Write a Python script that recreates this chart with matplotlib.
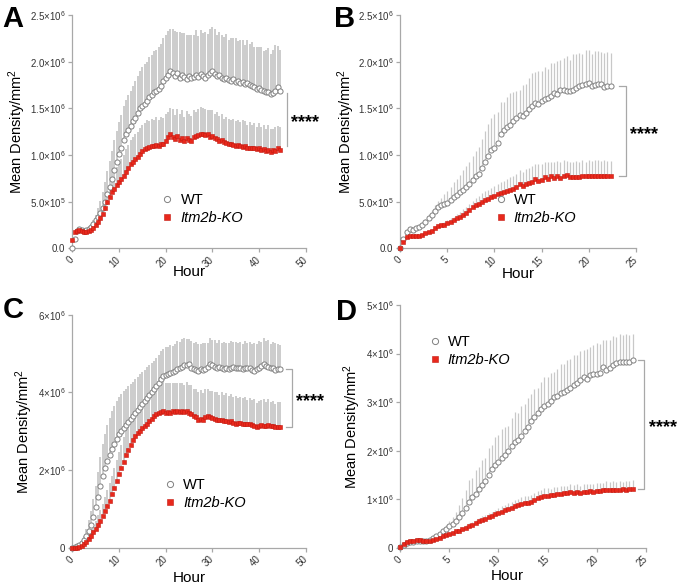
import numpy as np
import matplotlib
matplotlib.use('Agg')
import matplotlib.pyplot as plt

plt.rcParams['font.family'] = ['Liberation Sans', 'DejaVu Sans']
plt.rcParams['mathtext.fontset'] = 'custom'
plt.rcParams['mathtext.rm'] = 'Liberation Sans'
plt.rcParams['mathtext.it'] = 'Liberation Sans:italic'

# mean density per mm2 and SD, in units of 1e6
# panels A and C: one point every 0.5 h, panels B and D: every 1/3 h
step_a = 0.5
wt_a = [0.00, 0.10, 0.19, 0.21, 0.20, 0.19, 0.20, 0.21, 0.23, 0.26,
        0.30, 0.34, 0.38, 0.43, 0.50, 0.58, 0.66, 0.74, 0.84, 0.93,
        1.01, 1.08, 1.16, 1.23, 1.27, 1.31, 1.36, 1.40, 1.45, 1.50,
        1.53, 1.55, 1.58, 1.62, 1.64, 1.67, 1.69, 1.71, 1.74, 1.79,
        1.83, 1.86, 1.90, 1.88, 1.85, 1.88, 1.83, 1.86, 1.84, 1.81,
        1.85, 1.82, 1.84, 1.86, 1.84, 1.87, 1.85, 1.83, 1.86, 1.88,
        1.90, 1.87, 1.85, 1.86, 1.82, 1.81, 1.82, 1.80, 1.79, 1.81,
        1.78, 1.79, 1.77, 1.78, 1.76, 1.77, 1.75, 1.74, 1.73, 1.71,
        1.72, 1.70, 1.69, 1.68, 1.67, 1.65, 1.66, 1.69, 1.73, 1.69]
wt_a_sd = [0.00, 0.01, 0.02, 0.02, 0.02, 0.02, 0.02, 0.03, 0.03, 0.04,
           0.06, 0.09, 0.13, 0.17, 0.21, 0.25, 0.28, 0.30, 0.32, 0.33,
           0.34, 0.35, 0.36, 0.36, 0.37, 0.38, 0.38, 0.39, 0.40, 0.40,
           0.41, 0.42, 0.42, 0.43, 0.43, 0.44, 0.44, 0.45, 0.45, 0.46,
           0.46, 0.47, 0.45, 0.47, 0.48, 0.44, 0.49, 0.45, 0.47, 0.48,
           0.44, 0.47, 0.45, 0.48, 0.43, 0.47, 0.46, 0.49, 0.44, 0.47,
           0.47, 0.48, 0.44, 0.46, 0.47, 0.45, 0.48, 0.43, 0.46, 0.44,
           0.47, 0.43, 0.46, 0.45, 0.42, 0.46, 0.44, 0.47, 0.43, 0.45,
           0.44, 0.46, 0.42, 0.45, 0.48, 0.43, 0.46, 0.49, 0.44, 0.44]
ko_a = [0.09, 0.17, 0.19, 0.20, 0.19, 0.18, 0.18, 0.19, 0.20, 0.22,
        0.25, 0.28, 0.32, 0.37, 0.43, 0.50, 0.55, 0.60, 0.64, 0.68,
        0.71, 0.74, 0.77, 0.82, 0.86, 0.90, 0.93, 0.96, 0.98, 1.01,
        1.04, 1.06, 1.08, 1.09, 1.10, 1.10, 1.11, 1.10, 1.12, 1.12,
        1.15, 1.19, 1.22, 1.19, 1.17, 1.20, 1.16, 1.18, 1.15, 1.18,
        1.16, 1.15, 1.19, 1.20, 1.21, 1.22, 1.23, 1.21, 1.22, 1.19,
        1.20, 1.18, 1.17, 1.15, 1.16, 1.14, 1.13, 1.12, 1.12, 1.11,
        1.10, 1.11, 1.10, 1.09, 1.10, 1.08, 1.08, 1.07, 1.08, 1.06,
        1.07, 1.05, 1.06, 1.04, 1.05, 1.03, 1.05, 1.04, 1.07, 1.05]
ko_a_sd = [0.00, 0.01, 0.01, 0.01, 0.01, 0.01, 0.01, 0.02, 0.02, 0.02,
           0.03, 0.04, 0.05, 0.07, 0.09, 0.11, 0.13, 0.15, 0.17, 0.19,
           0.21, 0.22, 0.23, 0.24, 0.25, 0.26, 0.26, 0.27, 0.27, 0.28,
           0.28, 0.28, 0.29, 0.27, 0.29, 0.28, 0.30, 0.27, 0.29, 0.28,
           0.29, 0.27, 0.28, 0.30, 0.26, 0.29, 0.28, 0.30, 0.26, 0.29,
           0.28, 0.27, 0.29, 0.26, 0.28, 0.29, 0.27, 0.28, 0.26, 0.29,
           0.28, 0.26, 0.29, 0.27, 0.28, 0.25, 0.28, 0.27, 0.26, 0.28,
           0.26, 0.27, 0.25, 0.28, 0.26, 0.24, 0.27, 0.25, 0.26, 0.24,
           0.27, 0.25, 0.26, 0.24, 0.27, 0.25, 0.23, 0.26, 0.24, 0.25]

step_b = 1 / 3
wt_b = [0.00, 0.10, 0.18, 0.21, 0.20, 0.22, 0.23, 0.25, 0.28,
        0.33, 0.36, 0.40, 0.44, 0.46, 0.48, 0.49, 0.52, 0.55,
        0.57, 0.60, 0.63, 0.66, 0.69, 0.73, 0.77, 0.80, 0.86,
        0.93, 0.99, 1.05, 1.08, 1.13, 1.22, 1.27, 1.30, 1.32,
        1.36, 1.40, 1.43, 1.42, 1.45, 1.49, 1.52, 1.56, 1.55,
        1.58, 1.60, 1.61, 1.63, 1.66, 1.65, 1.70, 1.70, 1.69,
        1.69, 1.70, 1.72, 1.74, 1.75, 1.76, 1.77, 1.74, 1.75,
        1.76, 1.76, 1.73, 1.74, 1.74]
wt_b_sd = [0.00, 0.01, 0.01, 0.01, 0.02, 0.02, 0.02, 0.03, 0.03,
           0.04, 0.05, 0.06, 0.07, 0.08, 0.10, 0.12, 0.14, 0.16,
           0.17, 0.19, 0.21, 0.22, 0.24, 0.26, 0.27, 0.29, 0.31,
           0.33, 0.34, 0.35, 0.36, 0.33, 0.35, 0.30, 0.32, 0.34,
           0.31, 0.29, 0.27, 0.33, 0.31, 0.34, 0.36, 0.33, 0.35,
           0.32, 0.34, 0.31, 0.36, 0.33, 0.36, 0.32, 0.34, 0.37,
           0.33, 0.38, 0.36, 0.35, 0.33, 0.36, 0.35, 0.34, 0.36,
           0.35, 0.34, 0.36, 0.36, 0.35]
ko_b = [0.00, 0.07, 0.12, 0.13, 0.13, 0.13, 0.13, 0.14, 0.16,
        0.17, 0.19, 0.22, 0.24, 0.25, 0.25, 0.27, 0.28, 0.30,
        0.32, 0.34, 0.36, 0.38, 0.41, 0.44, 0.46, 0.48, 0.50,
        0.52, 0.53, 0.55, 0.56, 0.58, 0.59, 0.60, 0.61, 0.63,
        0.64, 0.66, 0.69, 0.67, 0.69, 0.70, 0.71, 0.74, 0.72,
        0.73, 0.76, 0.74, 0.77, 0.75, 0.78, 0.75, 0.78, 0.79,
        0.76, 0.76, 0.76, 0.76, 0.77, 0.77, 0.78, 0.78, 0.78,
        0.78, 0.78, 0.78, 0.77, 0.77]
ko_b_sd = [0.00, 0.00, 0.01, 0.01, 0.01, 0.01, 0.01, 0.01, 0.01,
           0.01, 0.02, 0.02, 0.02, 0.02, 0.03, 0.03, 0.04, 0.04,
           0.05, 0.05, 0.06, 0.06, 0.07, 0.07, 0.08, 0.08, 0.09,
           0.09, 0.10, 0.10, 0.11, 0.11, 0.12, 0.12, 0.13, 0.13,
           0.14, 0.14, 0.15, 0.15, 0.16, 0.16, 0.17, 0.16, 0.18,
           0.17, 0.16, 0.18, 0.15, 0.17, 0.16, 0.18, 0.17, 0.15,
           0.16, 0.17, 0.18, 0.17, 0.18, 0.16, 0.17, 0.16, 0.17,
           0.17, 0.16, 0.17, 0.17, 0.17]

step_c = 0.5
wt_c = [0.00, 0.02, 0.04, 0.07, 0.12, 0.20, 0.32, 0.45, 0.60, 0.80,
        1.05, 1.30, 1.60, 1.85, 2.05, 2.25, 2.40, 2.55, 2.68, 2.80,
        2.92, 3.00, 3.08, 3.16, 3.24, 3.32, 3.40, 3.48, 3.56, 3.63,
        3.70, 3.78, 3.86, 3.94, 4.00, 4.08, 4.16, 4.25, 4.35, 4.42,
        4.46, 4.47, 4.50, 4.52, 4.55, 4.60, 4.62, 4.66, 4.70, 4.71,
        4.72, 4.62, 4.60, 4.58, 4.56, 4.60, 4.58, 4.60, 4.65, 4.72,
        4.70, 4.66, 4.64, 4.66, 4.62, 4.60, 4.63, 4.60, 4.62, 4.65,
        4.62, 4.64, 4.62, 4.60, 4.63, 4.64, 4.62, 4.59, 4.56, 4.60,
        4.63, 4.68, 4.72, 4.68, 4.66, 4.62, 4.63, 4.59, 4.60, 4.60]
wt_c_sd = [0.00, 0.01, 0.02, 0.04, 0.07, 0.12, 0.18, 0.26, 0.35, 0.45,
           0.55, 0.65, 0.75, 0.82, 0.88, 0.92, 0.95, 0.97, 0.98, 0.98,
           0.97, 0.96, 0.95, 0.94, 0.92, 0.90, 0.88, 0.87, 0.85, 0.84,
           0.82, 0.80, 0.79, 0.77, 0.76, 0.74, 0.73, 0.72, 0.71, 0.70,
           0.70, 0.69, 0.72, 0.68, 0.70, 0.73, 0.67, 0.71, 0.69, 0.66,
           0.65, 0.70, 0.66, 0.72, 0.68, 0.64, 0.70, 0.67, 0.63, 0.69,
           0.66, 0.70, 0.64, 0.68, 0.65, 0.71, 0.63, 0.67, 0.70, 0.64,
           0.68, 0.62, 0.67, 0.65, 0.70, 0.63, 0.68, 0.66, 0.71, 0.64,
           0.69, 0.62, 0.67, 0.64, 0.70, 0.63, 0.66, 0.68, 0.64, 0.62]
ko_c = [0.00, 0.00, 0.01, 0.03, 0.06, 0.10, 0.16, 0.23, 0.31, 0.40,
        0.50, 0.60, 0.70, 0.82, 0.95, 1.08, 1.22, 1.38, 1.55, 1.72,
        1.90, 2.05, 2.22, 2.38, 2.52, 2.65, 2.78, 2.88, 2.95, 3.02,
        3.08, 3.14, 3.20, 3.26, 3.32, 3.40, 3.45, 3.48, 3.50, 3.52,
        3.48, 3.51, 3.47, 3.52, 3.50, 3.53, 3.49, 3.52, 3.50, 3.53,
        3.48, 3.45, 3.40, 3.36, 3.30, 3.33, 3.30, 3.36, 3.40, 3.38,
        3.34, 3.32, 3.30, 3.28, 3.30, 3.26, 3.27, 3.25, 3.26, 3.22,
        3.20, 3.22, 3.21, 3.20, 3.20, 3.18, 3.19, 3.16, 3.14, 3.12,
        3.13, 3.16, 3.15, 3.14, 3.16, 3.13, 3.14, 3.10, 3.12, 3.11]
ko_c_sd = [0.00, 0.00, 0.01, 0.02, 0.03, 0.05, 0.07, 0.10, 0.13, 0.16,
           0.20, 0.24, 0.28, 0.32, 0.36, 0.40, 0.44, 0.48, 0.52, 0.55,
           0.58, 0.61, 0.64, 0.66, 0.68, 0.70, 0.71, 0.72, 0.73, 0.74,
           0.74, 0.75, 0.75, 0.76, 0.76, 0.77, 0.76, 0.75, 0.77, 0.74,
           0.76, 0.73, 0.77, 0.72, 0.75, 0.71, 0.76, 0.73, 0.70, 0.74,
           0.71, 0.75, 0.69, 0.73, 0.70, 0.74, 0.68, 0.72, 0.70, 0.67,
           0.71, 0.68, 0.72, 0.66, 0.70, 0.67, 0.71, 0.65, 0.69, 0.66,
           0.70, 0.64, 0.68, 0.65, 0.69, 0.63, 0.67, 0.65, 0.68, 0.62,
           0.66, 0.64, 0.68, 0.62, 0.66, 0.63, 0.65, 0.61, 0.64, 0.65]

step_d = 1 / 3
wt_d = [0.02, 0.06, 0.10, 0.12, 0.13, 0.14, 0.14, 0.14, 0.14,
        0.16, 0.20, 0.24, 0.28, 0.34, 0.40, 0.45, 0.50, 0.56,
        0.63, 0.72, 0.82, 0.95, 1.05, 1.12, 1.22, 1.30, 1.38,
        1.50, 1.62, 1.70, 1.78, 1.85, 1.92, 2.00, 2.10, 2.18,
        2.22, 2.30, 2.40, 2.48, 2.62, 2.70, 2.78, 2.85, 2.92,
        2.97, 3.02, 3.10, 3.12, 3.18, 3.22, 3.26, 3.30, 3.36,
        3.40, 3.45, 3.52, 3.48, 3.56, 3.58, 3.58, 3.60, 3.72,
        3.66, 3.70, 3.76, 3.80, 3.82, 3.82, 3.82, 3.82, 3.86]
wt_d_sd = [0.00, 0.01, 0.01, 0.01, 0.01, 0.01, 0.01, 0.01, 0.01,
           0.02, 0.03, 0.04, 0.05, 0.06, 0.08, 0.10, 0.14, 0.18,
           0.25, 0.30, 0.38, 0.44, 0.40, 0.48, 0.45, 0.52, 0.48,
           0.55, 0.50, 0.58, 0.54, 0.60, 0.56, 0.52, 0.58, 0.61,
           0.55, 0.62, 0.57, 0.60, 0.54, 0.58, 0.52, 0.57, 0.60,
           0.55, 0.58, 0.52, 0.56, 0.60, 0.57, 0.61, 0.58, 0.62,
           0.57, 0.60, 0.55, 0.62, 0.58, 0.60, 0.63, 0.59, 0.55,
           0.61, 0.57, 0.60, 0.55, 0.58, 0.56, 0.59, 0.57, 0.54]
ko_d = [0.03, 0.08, 0.12, 0.14, 0.15, 0.16, 0.16, 0.15, 0.15,
        0.14, 0.16, 0.19, 0.21, 0.24, 0.26, 0.29, 0.31, 0.34,
        0.36, 0.39, 0.42, 0.45, 0.48, 0.51, 0.55, 0.57, 0.60,
        0.63, 0.66, 0.69, 0.72, 0.75, 0.78, 0.81, 0.83, 0.86,
        0.88, 0.90, 0.92, 0.93, 0.95, 0.98, 1.02, 1.05, 1.07,
        1.08, 1.09, 1.10, 1.12, 1.11, 1.13, 1.14, 1.15, 1.14,
        1.15, 1.14, 1.16, 1.15, 1.17, 1.15, 1.18, 1.17, 1.19,
        1.20, 1.20, 1.20, 1.20, 1.20, 1.21, 1.20, 1.21, 1.22]
ko_d_sd = [0.00, 0.00, 0.01, 0.01, 0.01, 0.01, 0.01, 0.01, 0.01,
           0.01, 0.01, 0.02, 0.02, 0.02, 0.03, 0.03, 0.03, 0.04,
           0.04, 0.05, 0.05, 0.06, 0.06, 0.07, 0.07, 0.08, 0.08,
           0.09, 0.09, 0.10, 0.10, 0.11, 0.11, 0.12, 0.12, 0.13,
           0.13, 0.14, 0.14, 0.15, 0.14, 0.15, 0.15, 0.14, 0.16,
           0.15, 0.13, 0.16, 0.14, 0.16, 0.15, 0.14, 0.16, 0.15,
           0.16, 0.14, 0.15, 0.16, 0.14, 0.17, 0.15, 0.16, 0.15,
           0.17, 0.16, 0.17, 0.16, 0.17, 0.15, 0.17, 0.16, 0.17]

# axis ticks and tick labels
xticks_long = [0, 10, 20, 30, 40, 50]
xticks_short = [0, 5, 10, 15, 20, 25]
yticks_ab = [0, 0.5, 1.0, 1.5, 2.0, 2.5]
yticklabels_ab = ['0.0', '5.0×10$^{5}$', '1.0×10$^{6}$', '1.5×10$^{6}$',
                  '2.0×10$^{6}$', '2.5×10$^{6}$']
yticks_c = [0, 2, 4, 6]
yticklabels_c = ['0', '2×10$^{6}$', '4×10$^{6}$', '6×10$^{6}$']
yticks_d = [0, 1, 2, 3, 4, 5]
yticklabels_d = ['0', '1×10$^{6}$', '2×10$^{6}$', '3×10$^{6}$', '4×10$^{6}$',
                 '5×10$^{6}$']

labels = ['WT', 'Itm2b-KO']
wt_color = '#808080'
ko_color = '#e8281c'
err_color = '#c8c8c8'
axis_color = '#a8a8a8'


def draw_panel(ax, step, wt, wt_sd, ko, ko_sd, xticks, yticks, yticklabels,
               legend_anchor, bracket_x, tick_len, shrink, ylabel_x, xlabel_xy,
               err_width):
  hours_wt = np.arange(len(wt)) * step
  hours_ko = np.arange(len(ko)) * step
  wt = np.array(wt)
  ko = np.array(ko)

  # upper error bars only
  ax.errorbar(hours_wt, wt, yerr=[np.zeros(len(wt)), wt_sd], fmt='none',
              ecolor=err_color, elinewidth=err_width, capsize=0, zorder=1)
  ax.errorbar(hours_ko, ko, yerr=[np.zeros(len(ko)), ko_sd], fmt='none',
              ecolor=err_color, elinewidth=err_width, capsize=0, zorder=1)

  # markers
  ax.plot(hours_wt, wt, linestyle='none', marker='o', markersize=3.7,
          markerfacecolor='white', markeredgecolor=wt_color,
          markeredgewidth=0.7, clip_on=False, zorder=3, label=labels[0])
  ax.plot(hours_ko, ko, linestyle='none', marker='s', markersize=3.5,
          markerfacecolor=ko_color, markeredgecolor='#c41a10',
          markeredgewidth=0.4, clip_on=False, zorder=4, label=labels[1])

  # axes styling
  ax.set_xlim(xticks[0], xticks[-1])
  ax.set_ylim(yticks[0], yticks[-1])
  ax.set_xticks(xticks)
  ax.set_xticklabels([str(t) for t in xticks], rotation=45, ha='right',
                     va='center', rotation_mode='anchor')
  ax.set_yticks(yticks)
  ax.set_yticklabels(yticklabels)
  for side in ['top', 'right']:
    ax.spines[side].set_visible(False)
  for side in ['left', 'bottom']:
    ax.spines[side].set_color(axis_color)
    ax.spines[side].set_linewidth(0.9)
  ax.tick_params(length=3, width=0.9, color=axis_color, labelsize=7,
                 labelcolor='#333333', pad=2)
  ax.tick_params(axis='x', pad=4)

  ax.set_ylabel('Mean Density/mm$^{2}$', fontsize=10.5)
  ax.set_xlabel('Hour', fontsize=11)
  ax.yaxis.set_label_coords(ylabel_x, 0.5)
  ax.xaxis.set_label_coords(*xlabel_xy)
  ax.xaxis.label.set_va('top')

  # legend
  leg = ax.legend(loc='upper left', bbox_to_anchor=legend_anchor,
                  frameon=False, fontsize=10.5, handlelength=1.0,
                  handletextpad=0.4, borderpad=0, borderaxespad=0,
                  labelspacing=0.25, markerscale=1.2)
  leg.get_texts()[1].set_style('italic')

  # significance bracket between the last points
  top = wt[-1] - shrink[0]
  bottom = ko[-1] + shrink[1]
  if tick_len > 0:
    bx = [bracket_x - tick_len, bracket_x, bracket_x, bracket_x - tick_len]
    by = [top, top, bottom, bottom]
  else:
    bx = [bracket_x, bracket_x]
    by = [top, bottom]
  ax.plot(bx, by, color=axis_color, linewidth=0.9, clip_on=False)
  ax.annotate('****', xy=(bracket_x, (top + bottom) / 2), xytext=(3, -2.5),
              textcoords='offset points', fontsize=13, fontweight='bold',
              va='center', ha='left', annotation_clip=False)


fig = plt.figure(figsize=(6.8, 5.88), dpi=100)

ax_a = fig.add_axes([0.1063, 0.5777, 0.3432, 0.3968])
draw_panel(ax_a, step_a, wt_a, wt_a_sd, ko_a, ko_a_sd, xticks_long,
           yticks_ab, yticklabels_ab, (0.376, 0.235), 45.9, 0, (0.03, 0.05),
           -0.19, (0.5, -0.072), 1.3)

ax_b = fig.add_axes([0.5887, 0.5777, 0.3462, 0.3968])
draw_panel(ax_b, step_b, wt_b, wt_b_sd, ko_b, ko_b_sd, xticks_short,
           yticks_ab, yticklabels_ab, (0.395, 0.235), 23.94, 0.68, (0, 0),
           -0.184, (0.5, -0.079), 0.9)

ax_c = fig.add_axes([0.1063, 0.0680, 0.3432, 0.3968])
draw_panel(ax_c, step_c, wt_c, wt_c_sd, ko_c, ko_c_sd, xticks_long,
           yticks_c, yticklabels_c, (0.388, 0.30), 47.0, 1.2, (0, 0),
           -0.16, (0.5, -0.097), 1.3)

ax_d = fig.add_axes([0.5887, 0.0680, 0.3609, 0.4133])
draw_panel(ax_d, step_d, wt_d, wt_d_sd, ko_d, ko_d_sd, xticks_short,
           yticks_d, yticklabels_d, (0.11, 0.875), 24.86, 0.61, (0, 0),
           -0.152, (0.434, -0.086), 0.9)

# panel letters
for letter, x, y in [('A', 0.003, 0.992), ('B', 0.491, 0.992),
                     ('C', 0.004, 0.497), ('D', 0.494, 0.493)]:
  fig.text(x, y, letter, fontsize=21, fontweight='bold', va='top', ha='left')

fig.savefig('out.png', dpi=100)
